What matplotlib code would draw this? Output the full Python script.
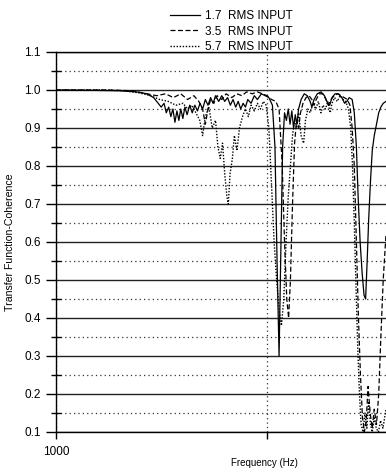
import matplotlib
matplotlib.use("Agg")
import matplotlib.pyplot as plt
from matplotlib.ticker import FixedLocator, FixedFormatter, MultipleLocator, FormatStrFormatter

plt.rcParams["font.family"] = ["Liberation Sans", "DejaVu Sans"]

# 1.7 RMS input (solid)
freq_17 = [1000, 1500, 2000, 2400, 2700, 2900, 3050, 3150, 3250, 3330, 3420, 3500, 3580,
           3660, 3740, 3820, 3900, 3990, 4080, 4180, 4300, 4420, 4550, 4680, 4810, 4950,
           5100, 5250, 5400, 5550, 5700, 5900, 6100, 6300, 6500, 6700, 6900, 7100, 7300,
           7500, 7700, 7900, 8100, 8400, 8700, 9000, 9400, 9800, 10200, 10600, 10900,
           11150, 11400, 11600, 11850, 12100, 12350, 12600, 12850, 13100, 13350, 13600,
           13850, 14100, 14500, 15000, 15500, 16000, 16300, 16700, 17300, 18000, 18700,
           19400, 19800, 20300, 21000, 21800, 22600, 23300, 23900, 24500, 25300, 25900,
           26500, 27000, 27600, 28200, 28800, 29300, 29800, 30300, 30900, 31500, 32200,
           33000, 33800, 34600, 35500, 36600]
coh_17 = [1.000, 0.999, 0.998, 0.995, 0.990, 0.980, 0.965, 0.955, 0.965, 0.940, 0.955,
          0.930, 0.950, 0.915, 0.945, 0.920, 0.950, 0.925, 0.955, 0.935, 0.960, 0.940,
          0.960, 0.945, 0.965, 0.950, 0.975, 0.960, 0.980, 0.965, 0.985, 0.970, 0.985,
          0.970, 0.980, 0.960, 0.975, 0.955, 0.970, 0.950, 0.965, 0.955, 0.975, 0.965,
          0.985, 0.975, 0.990, 0.985, 0.980, 0.960, 0.850, 0.550, 0.300, 0.550, 0.850,
          0.940, 0.920, 0.950, 0.910, 0.945, 0.900, 0.935, 0.910, 0.950, 0.975, 0.990,
          0.985, 0.970, 0.955, 0.975, 0.990, 0.995, 0.985, 0.965, 0.960, 0.980, 0.990,
          0.990, 0.980, 0.965, 0.970, 0.980, 0.975, 0.940, 0.850, 0.720, 0.600, 0.520,
          0.460, 0.450, 0.550, 0.660, 0.760, 0.840, 0.880, 0.910, 0.940, 0.955, 0.965,
          0.970]

# 3.5 RMS input (dashed)
freq_35 = [1000, 1800, 2300, 2700, 3000, 3300, 3600, 3900, 4200, 4500, 4750, 4950, 5100,
           5250, 5400, 5600, 5800, 6100, 6400, 6800, 7200, 7600, 8000, 8500, 9000, 9500,
           10000, 10500, 11000, 11400, 11800, 12100, 12400, 12650, 12900, 13200, 13500,
           13800, 14100, 14400, 14800, 15300, 15800, 16300, 16700, 17100, 17700, 18400,
           19000, 19500, 20100, 20800, 21600, 22400, 23200, 24000, 24700, 25300, 25900,
           26500, 27100, 27700, 28300, 28900, 29500, 30100, 30800, 31500, 32200, 33000,
           33800, 34600, 35500, 36600]
coh_35 = [1.000, 1.000, 0.998, 0.990, 0.985, 0.990, 0.980, 0.990, 0.975, 0.985, 0.970,
          0.950, 0.910, 0.950, 0.975, 0.965, 0.985, 0.975, 0.990, 0.980, 0.990, 0.985,
          0.995, 0.990, 0.995, 0.990, 0.985, 0.975, 0.970, 0.950, 0.800, 0.600, 0.450,
          0.400, 0.500, 0.700, 0.860, 0.920, 0.900, 0.940, 0.965, 0.980, 0.985, 0.975,
          0.960, 0.975, 0.990, 0.990, 0.975, 0.960, 0.975, 0.985, 0.990, 0.985, 0.980,
          0.975, 0.960, 0.900, 0.800, 0.600, 0.400, 0.250, 0.140, 0.100, 0.130, 0.220,
          0.150, 0.110, 0.160, 0.120, 0.200, 0.350, 0.500, 0.620]

# 5.7 RMS input (dotted)
freq_57 = [1000, 1700, 2100, 2500, 2800, 3100, 3400, 3700, 4000, 4200, 4400, 4600, 4800,
           4950, 5100, 5300, 5500, 5700, 5850, 6000, 6150, 6300, 6450, 6550, 6680, 6850,
           7000, 7200, 7400, 7650, 7900, 8150, 8400, 8700, 9000, 9300, 9600, 9900, 10200,
           10500, 10800, 11100, 11400, 11700, 12000, 12300, 12600, 12900, 13200, 13500,
           13800, 14100, 14500, 14900, 15200, 15600, 16000, 16500, 17000, 17500, 18000,
           18400, 18900, 19400, 19900, 20300, 20900, 21500, 22200, 22900, 23600, 24300,
           24900, 25400, 25900, 26400, 26900, 27400, 27900, 28500, 29100, 29700, 30300,
           30900, 31500, 32200, 32900, 33700, 34500, 35400, 36600]
coh_57 = [1.000, 1.000, 0.998, 0.992, 0.985, 0.975, 0.970, 0.960, 0.965, 0.950, 0.960,
          0.940, 0.920, 0.880, 0.930, 0.955, 0.900, 0.920, 0.850, 0.820, 0.860, 0.780,
          0.720, 0.700, 0.780, 0.820, 0.880, 0.840, 0.900, 0.930, 0.950, 0.930, 0.960,
          0.945, 0.965, 0.950, 0.970, 0.960, 0.900, 0.750, 0.600, 0.500, 0.420, 0.380,
          0.450, 0.600, 0.720, 0.800, 0.880, 0.920, 0.900, 0.940, 0.880, 0.860, 0.920,
          0.950, 0.940, 0.965, 0.950, 0.970, 0.940, 0.960, 0.950, 0.970, 0.940, 0.965,
          0.980, 0.970, 0.985, 0.975, 0.970, 0.950, 0.900, 0.800, 0.650, 0.480, 0.320,
          0.200, 0.120, 0.100, 0.150, 0.110, 0.180, 0.120, 0.100, 0.140, 0.110, 0.100,
          0.130, 0.110, 0.160]

series_labels = ["1.7  RMS INPUT", "3.5  RMS INPUT", "5.7  RMS INPUT"]
x_tick_values = [1000, 10000]
x_tick_labels = ["1000", ""]

fig = plt.figure(figsize=(3.86, 4.75), dpi=100)
ax = fig.add_axes([56 / 386, 43 / 475, 330 / 386, 380 / 475])

ax.plot(freq_17, coh_17, color="black", lw=0.9, ls="-", label=series_labels[0])
ax.plot(freq_35, coh_35, color="black", lw=0.9, ls=(0, (4, 2)), label=series_labels[1])
ax.plot(freq_57, coh_57, color="black", lw=1.0, ls=(0, (1, 1.2)), label=series_labels[2])

ax.set_xscale("log")
ax.set_xlim(1000, 36600)
ax.set_ylim(0.1, 1.1)

ax.xaxis.set_major_locator(FixedLocator(x_tick_values))
ax.xaxis.set_major_formatter(FixedFormatter(x_tick_labels))
ax.xaxis.set_minor_locator(FixedLocator([]))
ax.yaxis.set_major_locator(MultipleLocator(0.1))
ax.yaxis.set_minor_locator(MultipleLocator(0.05))
ax.yaxis.set_major_formatter(FormatStrFormatter("%.1f"))

ax.tick_params(axis="y", which="major", direction="out", length=7, width=1, labelsize=8.5, pad=4)
ax.tick_params(axis="y", which="minor", direction="inout", length=7, width=1)
ax.tick_params(axis="x", which="major", direction="out", length=5, width=1, labelsize=8.5, pad=5)

ax.grid(axis="y", which="major", color="#222222", lw=1.0, ls="-")
ax.grid(axis="y", which="minor", color="#333333", lw=0.9, ls=(0, (1, 2.5)))
ax.grid(axis="x", which="major", color="#333333", lw=0.9, ls=(0, (1, 2.5)))
ax.set_axisbelow(True)

ax.spines["right"].set_visible(False)
for side in ("left", "bottom", "top"):
    ax.spines[side].set_linewidth(1.0)

ax.set_xlabel("Frequency (Hz)", fontsize=7)
ax.xaxis.set_label_coords(0.633, -0.068)
ax.set_ylabel("Transfer Function-Coherence", fontsize=7.6)
ax.yaxis.set_label_coords(-0.125, 0.5)

ax.legend(loc="upper left", bbox_to_anchor=(0.345, 1.110), frameon=False,
          fontsize=8.5, handlelength=2.55, handletextpad=0.42, labelspacing=0.28,
          borderpad=0, borderaxespad=0)

fig.savefig("out.png", dpi=100)
